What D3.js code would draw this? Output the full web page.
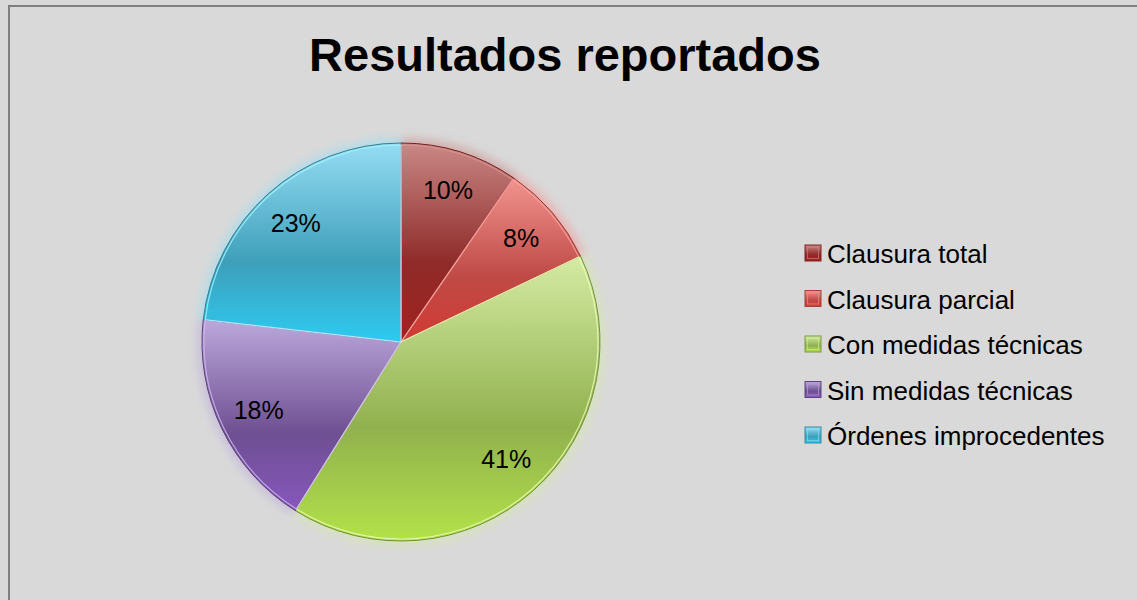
<!DOCTYPE html>
<html>
<head>
<meta charset="utf-8">
<script src="https://cdnjs.cloudflare.com/ajax/libs/d3/7.8.5/d3.min.js"></script>
<style>
    body { margin: 0; background: #d9d9d9; }
    svg { display: block; font-family: "Liberation Sans", Arial, sans-serif; }
</style>
<title>Resultados reportados</title>
</head>
<body>
<script>

    const width = 1137;
    const height = 600;

    // data
    const categories = ["Clausura total", "Clausura parcial", "Con medidas técnicas", "Sin medidas técnicas", "Órdenes improcedentes"];
    const values = [9.6, 8.3, 41.0, 17.9, 23.2];

    // light top / darker middle / bright bottom, per slice
    const lightColors = ["#c98886", "#f2948f", "#d4eba4", "#bca8db", "#95ddf4"];
    const midColors = ["#8f2b29", "#bf4a46", "#91b14e", "#6e4f92", "#3e9fba"];
    const brightColors = ["#a0221f", "#d33a33", "#b3e249", "#8757bd", "#2ccbf2"];

    const cx = 401, cy = 342, r = 199;

    const svg = d3.select("body").append("svg")
        .attr("width", width).attr("height", height);

    const defs = svg.append("defs");

    categories.forEach((c, i) => {
        const g = defs.append("linearGradient")
            .attr("id", "grad" + i)
            .attr("x1", 0).attr("y1", 0).attr("x2", 0).attr("y2", 1);
        g.append("stop").attr("offset", "0%").attr("stop-color", lightColors[i]);
        g.append("stop").attr("offset", "60%").attr("stop-color", midColors[i]);
        g.append("stop").attr("offset", "100%").attr("stop-color", brightColors[i]);
    });

    defs.append("filter").attr("id", "glow")
        .attr("x", "-20%").attr("y", "-20%").attr("width", "140%").attr("height", "140%")
        .append("feGaussianBlur").attr("stdDeviation", 5);

    // chart frame
    svg.append("rect")
        .attr("x", 9).attr("y", 6)
        .attr("width", width + 20).attr("height", height + 20)
        .style("fill", "#d9d9d9")
        .style("stroke", "#7f7f7f")
        .style("stroke-width", 2);

    svg.append("text")
        .attr("x", 565).attr("y", 71)
        .attr("text-anchor", "middle")
        .style("font-size", "47px")
        .style("font-weight", "bold")
        .style("fill", "#000")
        .text("Resultados reportados");

    const pie = d3.pie().sort(null).value(d => d);
    const arcs = pie(values);
    const total = d3.sum(values);

    const arc = d3.arc().innerRadius(0).outerRadius(r);
    const glowArc = d3.arc().innerRadius(0).outerRadius(r + 5);
    const labelArc = d3.arc().innerRadius(158).outerRadius(158);

    const g = svg.append("g").attr("transform", `translate(${cx},${cy})`);

    // soft coloured glow around the pie
    g.append("g").attr("filter", "url(#glow)")
        .selectAll("path")
        .data(arcs)
        .join("path")
        .attr("d", glowArc)
        .style("fill", (d, i) => lightColors[i])
        .style("opacity", 0.55);

    g.selectAll("path.slice")
        .data(arcs)
        .join("path")
        .attr("class", "slice")
        .attr("d", arc)
        .style("fill", (d, i) => `url(#grad${i})`)
        .style("stroke", (d, i) => d3.rgb(midColors[i]).darker(0.6))
        .style("stroke-width", 1);

    // bevel highlight
    g.selectAll("path.bevel")
        .data(arcs)
        .join("path")
        .attr("class", "bevel")
        .attr("d", d3.arc().innerRadius(0).outerRadius(r - 2))
        .style("fill", "none")
        .style("stroke", (d, i) => d3.rgb(lightColors[i]).brighter(0.3))
        .style("stroke-width", 1.2)
        .style("stroke-opacity", 0.8);

    g.selectAll("text.pct")
        .data(arcs)
        .join("text")
        .attr("class", "pct")
        .attr("x", d => labelArc.centroid(d)[0])
        .attr("y", d => labelArc.centroid(d)[1] + 8)
        .attr("text-anchor", "middle")
        .style("font-size", "25px")
        .style("fill", "#000")
        .text(d => Math.round(d.value / total * 100) + "%");

    // legend
    const legend = svg.append("g").attr("transform", "translate(805,245)");
    const row = legend.selectAll("g")
        .data(categories)
        .join("g")
        .attr("transform", (d, i) => `translate(0,${i * 45.5})`);

    row.append("rect")
        .attr("width", 16).attr("height", 16)
        .style("fill", (d, i) => `url(#grad${i})`)
        .style("stroke", (d, i) => d3.rgb(midColors[i]).darker(0.4))
        .style("stroke-width", 1);

    row.append("rect")
        .attr("x", 2.5).attr("y", 2.5)
        .attr("width", 11).attr("height", 11)
        .style("fill", "none")
        .style("stroke", (d, i) => lightColors[i])
        .style("stroke-opacity", 0.6)
        .style("stroke-width", 1);

    row.append("text")
        .attr("x", 22).attr("y", 18)
        .style("font-size", "26px")
        .style("fill", "#000")
        .text(d => d);

</script>
</body>
</html>
